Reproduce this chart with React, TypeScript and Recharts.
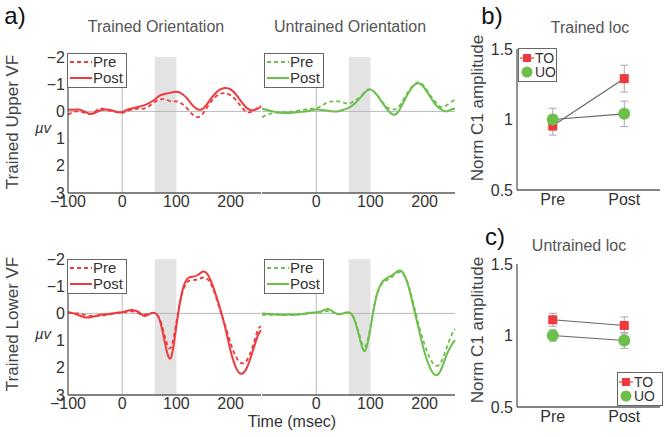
import React from 'react';
import { LineChart, Line, XAxis, YAxis, ReferenceArea, ReferenceLine, Legend, ErrorBar } from 'recharts';

// time axis (msec), sampled every 10 ms plus the right edge
const TIME = [-100, -90, -80, -70, -60, -50, -40, -30, -20, -10, 0, 10, 20, 30, 40, 50, 60, 70, 80, 90, 100, 110, 120, 130, 140, 150, 160, 170, 180, 190, 200, 210, 220, 230, 240, 250, 256];
const X_TICKS = [-100, 0, 100, 200];
const Y_TICKS = [-2, -1, 0, 1, 2, 3];

// ERP amplitudes (µV), trained upper visual field
const UPPER_TO_PRE = [0.12, 0.02, 0, 0.05, 0.09, 0, -0.1, -0.07, -0.01, 0.02, 0.05, -0.02, -0.07, -0.1, -0.1, -0.2, -0.35, -0.44, -0.44, -0.37, -0.37, -0.28, -0.1, 0.12, 0.21, 0.05, -0.25, -0.49, -0.64, -0.67, -0.59, -0.41, -0.16, 0.02, 0, -0.14, -0.2];
const UPPER_TO_POST = [-0.07, -0.06, -0.07, 0, 0.09, 0.05, -0.04, -0.07, -0.04, 0.02, 0.02, -0.07, -0.12, -0.17, -0.22, -0.31, -0.44, -0.59, -0.65, -0.69, -0.72, -0.65, -0.47, -0.22, -0.07, -0.12, -0.37, -0.62, -0.8, -0.86, -0.81, -0.62, -0.35, -0.12, -0.04, -0.1, -0.18];
const UPPER_UO_PRE = [0.21, 0.12, 0.06, 0.04, 0.03, 0.02, 0, -0.04, -0.07, -0.1, -0.12, -0.2, -0.33, -0.37, -0.37, -0.33, -0.28, -0.38, -0.52, -0.72, -0.81, -0.65, -0.4, -0.16, -0.08, -0.12, -0.4, -0.73, -0.98, -1.06, -0.9, -0.6, -0.35, -0.16, -0.22, -0.36, -0.42];
const UPPER_UO_POST = [-0.1, -0.05, 0, 0.04, 0.06, 0.06, 0.04, 0.02, 0, -0.04, -0.07, -0.05, -0.03, 0, 0, -0.06, -0.13, -0.27, -0.47, -0.7, -0.81, -0.65, -0.38, -0.1, 0.1, 0.05, -0.3, -0.68, -0.95, -1.03, -0.85, -0.55, -0.25, -0.08, 0, -0.08, -0.1];

// trained lower visual field
const LOWER_TO_PRE = [-0.04, 0, 0, 0.05, 0.09, 0.09, 0.09, 0.05, 0, -0.02, -0.04, -0.06, -0.07, 0, 0.05, 0, 0, 0.25, 0.95, 1.25, 0.3, -0.7, -1.15, -1.22, -1.25, -1.32, -1.2, -0.78, -0.15, 0.45, 1.1, 1.6, 1.83, 1.72, 1.25, 0.62, 0.48];
const LOWER_TO_POST = [-0.04, 0, 0.07, 0.14, 0.15, 0.1, 0.05, 0.03, 0.02, -0.02, -0.04, -0.1, -0.12, -0.06, 0.09, 0.03, -0.02, 0.3, 1.2, 1.62, 0.45, -0.75, -1.27, -1.35, -1.42, -1.54, -1.35, -0.85, -0.22, 0.52, 1.38, 2.0, 2.22, 2.0, 1.44, 0.83, 0.62];
const LOWER_UO_PRE = [0.05, 0.05, 0.05, 0.03, 0.05, 0.06, 0.05, 0.03, 0.02, 0, -0.02, -0.05, -0.08, -0.05, 0.02, 0, -0.02, 0.2, 0.82, 1.22, 0.5, -0.55, -1.05, -1.22, -1.35, -1.5, -1.45, -1.05, -0.3, 0.5, 1.15, 1.65, 1.92, 1.8, 1.3, 0.78, 0.58];
const LOWER_UO_POST = [0, 0.02, 0.03, 0.05, 0.05, 0.04, 0.05, 0.03, 0, -0.02, -0.04, -0.08, -0.16, -0.08, 0.03, 0, -0.04, 0.2, 0.9, 1.38, 0.55, -0.55, -1.1, -1.3, -1.4, -1.55, -1.5, -1.0, -0.2, 0.65, 1.45, 2.0, 2.27, 2.08, 1.55, 1.15, 0.98];

// normalised C1 amplitude
const CONDITIONS = ['Pre', 'Post'];
const LOC_TICKS = [0.5, 1, 1.5];
const TRAINED_TO = [0.955, 1.29];
const TRAINED_TO_ERR = [0.065, 0.095];
const TRAINED_UO = [1.0, 1.04];
const TRAINED_UO_ERR = [0.08, 0.09];
const UNTRAINED_TO = [1.11, 1.07];
const UNTRAINED_TO_ERR = [0.045, 0.06];
const UNTRAINED_UO = [1.0, 0.965];
const UNTRAINED_UO_ERR = [0.04, 0.055];

const FONT = '"Liberation Sans", Arial, Helvetica, sans-serif';
const RED = '#ef3a3d';
const GREEN = '#6cbf4b';
const AXIS = '#5a5a5a';
const TICK = { fill: '#333', fontSize: 16, fontFamily: FONT };
const PLOT_W = 193;
const PLOT_H = 136;
const TOP_PAD = 12;

const minus = (v: number) => (v < 0 ? `\u2212${Math.abs(v)}` : `${v}`);

const Text = ({ x, y, children, size = 16, color = '#555', italic = false }: any) => (
    <div style={{ position: 'absolute', left: x, top: y, transform: 'translate(-50%, -50%)', whiteSpace: 'nowrap', fontFamily: FONT, fontSize: size, color, lineHeight: 1, fontStyle: italic ? 'italic' : 'normal' }}>
        {children}
    </div>
);

const RotText = ({ x, y, children, size = 17 }: any) => (
    <div style={{ position: 'absolute', left: x, top: y, transform: 'translate(-50%, -50%) rotate(-90deg)', whiteSpace: 'nowrap', fontFamily: FONT, fontSize: size, color: '#444', lineHeight: 1 }}>
        {children}
    </div>
);

const PrePostKey = ({ color }: { color: string }) => (
    <div style={{ width: 60, height: 35, border: '1.5px solid #666', background: '#fff', boxSizing: 'border-box', fontFamily: FONT, fontSize: 15, color: '#333' }}>
        {[{ label: 'Pre', dash: '4 3' }, { label: 'Post', dash: undefined }].map((r) => (
            <div key={r.label} style={{ display: 'flex', alignItems: 'center', height: 16 }}>
                <svg width={25} height={16}>
                    <line x1={2} x2={24} y1={8} y2={8} stroke={color} strokeWidth={2} strokeDasharray={r.dash} />
                </svg>
                <span style={{ lineHeight: '16px' }}>{r.label}</span>
            </div>
        ))}
    </div>
);

const GroupKey = ({ width }: { width: number }) => (
    <div style={{ width, height: 34, border: '1.5px solid #666', background: '#fff', boxSizing: 'border-box', fontFamily: FONT, fontSize: 14, color: '#333', paddingTop: 2 }}>
        <div style={{ display: 'flex', alignItems: 'center', height: 14 }}>
            <svg width={16} height={14}>
                <line x1={1} x2={15} y1={7} y2={7} stroke={RED} strokeWidth={1.2} />
                <rect x={4} y={3} width={8} height={8} fill={RED} />
            </svg>
            <span style={{ lineHeight: '14px' }}>TO</span>
        </div>
        <div style={{ display: 'flex', alignItems: 'center', height: 14 }}>
            <svg width={16} height={14}>
                <circle cx={8} cy={7} r={5.5} fill={GREEN} />
            </svg>
            <span style={{ lineHeight: '14px' }}>UO</span>
        </div>
    </div>
);

// plotTop: page y of the plot area's top edge; legendTop: key offset from it
const ErpPanel = ({ pre, post, color, left, plotTop, axisW, xTicks, legendTop }: any) => {
    const data = TIME.map((t, i) => ({ t, pre: pre[i], post: post[i] }));
    return (
        <div style={{ position: 'absolute', left, top: plotTop - TOP_PAD }}>
            <LineChart width={axisW + PLOT_W + 1} height={TOP_PAD + PLOT_H + 22} data={data} margin={{ top: TOP_PAD, right: 1, bottom: 0, left: 0 }}>
                <ReferenceArea x1={60} x2={100} fill="#e3e3e3" fillOpacity={1} stroke="none" />
                <ReferenceLine x={0} stroke="#b8b8b8" />
                <ReferenceLine y={0} stroke="#b8b8b8" />
                <XAxis dataKey="t" type="number" domain={[-100, 256]} ticks={xTicks} interval={0} height={22} tickSize={0} tickMargin={3} stroke={AXIS} strokeWidth={1.3} tick={TICK} tickFormatter={minus} />
                <YAxis type="number" domain={[-2, 3]} reversed ticks={axisW ? Y_TICKS : []} interval={0} width={axisW} tick={axisW ? TICK : false} tickSize={0} tickMargin={3} stroke={AXIS} strokeWidth={1.3} tickFormatter={minus} />
                <Line dataKey="pre" type="natural" stroke={color} strokeWidth={1.8} strokeDasharray="4 3" dot={false} isAnimationActive={false} />
                <Line dataKey="post" type="natural" stroke={color} strokeWidth={2} dot={false} isAnimationActive={false} />
                <Legend layout="horizontal" verticalAlign="middle" align="center" wrapperStyle={{ left: axisW ? 67 : 2, top: legendTop + TOP_PAD, width: 60, height: 35 }} content={() => <PrePostKey color={color} />} />
            </LineChart>
        </div>
    );
};

const square = (props: any) => (
    <rect key={`sq-${props.index}`} x={props.cx - 4.5} y={props.cy - 4.5} width={9} height={9} fill={RED} />
);

const LocPanel = ({ to, toErr, uo, uoErr, left, plotTop, plotH, legendLeft, legendTop, legendW }: any) => {
    const data = CONDITIONS.map((name, i) => ({ x: i + 1, name, to: to[i], toErr: toErr[i], uo: uo[i], uoErr: uoErr[i] }));
    return (
        <div style={{ position: 'absolute', left, top: plotTop - TOP_PAD }}>
            <LineChart width={204} height={TOP_PAD + plotH + 25} data={data} margin={{ top: TOP_PAD, right: 4, bottom: 0, left: 0 }}>
                <XAxis dataKey="x" type="number" domain={[0.5, 2.5]} ticks={[1, 2]} interval={0} tickFormatter={(v) => CONDITIONS[v - 1]} height={25} tickSize={0} tickMargin={4} stroke={AXIS} strokeWidth={1.3} tick={TICK} />
                <YAxis type="number" domain={[0.5, 1.5]} ticks={LOC_TICKS} interval={0} width={57} tickSize={0} tickMargin={4} stroke={AXIS} strokeWidth={1.3} tick={TICK} />
                <Line dataKey="to" stroke="#666" strokeWidth={1.2} dot={square} isAnimationActive={false}>
                    <ErrorBar dataKey="toErr" direction="y" width={4} stroke="#a8a8a8" strokeWidth={1} />
                </Line>
                <Line dataKey="uo" stroke="#666" strokeWidth={1.2} dot={{ r: 6, fill: GREEN, stroke: 'none' }} isAnimationActive={false}>
                    <ErrorBar dataKey="uoErr" direction="y" width={4} stroke="#a8a8a8" strokeWidth={1} />
                </Line>
                <Legend layout="horizontal" verticalAlign="middle" align="center" wrapperStyle={{ left: legendLeft, top: legendTop + TOP_PAD, width: legendW, height: 34 }} content={() => <GroupKey width={legendW} />} />
            </LineChart>
        </div>
    );
};

export default function App() {
    return (
        <div style={{ position: 'absolute', left: 0, top: 0, width: 664, height: 437, background: '#fff', overflow: 'hidden' }}>
            <Text x={15} y={16} size={24} color="#111">a)</Text>
            <Text x={492} y={16} size={24} color="#111">b)</Text>
            <Text x={495} y={237} size={24} color="#111">c)</Text>

            <Text x={156} y={27}>Trained Orientation</Text>
            <Text x={350} y={27}>Untrained Orientation</Text>
            <Text x={590} y={28}>Trained loc</Text>
            <Text x={579} y={246}>Untrained loc</Text>

            <RotText x={12} y={122}>Trained Upper VF</RotText>
            <RotText x={12} y={324}>Trained Lower VF</RotText>
            <Text x={43} y={127} size={15} color="#333" italic>µv</Text>
            <Text x={43} y={333} size={15} color="#333" italic>µv</Text>
            <Text x={292} y={422} color="#333">Time (msec)</Text>

            <RotText x={477} y={108}>Norm C1 amplitude</RotText>
            <RotText x={477} y={330}>Norm C1 amplitude</RotText>

            <ErpPanel pre={UPPER_TO_PRE} post={UPPER_TO_POST} color={RED} left={0} plotTop={57} axisW={68} xTicks={X_TICKS} legendTop={-4} />
            <ErpPanel pre={UPPER_UO_PRE} post={UPPER_UO_POST} color={GREEN} left={262} plotTop={57} axisW={0} xTicks={[0, 100, 200]} legendTop={-4} />
            <ErpPanel pre={LOWER_TO_PRE} post={LOWER_TO_POST} color={RED} left={0} plotTop={259} axisW={68} xTicks={X_TICKS} legendTop={0} />
            <ErpPanel pre={LOWER_UO_PRE} post={LOWER_UO_POST} color={GREEN} left={262} plotTop={259} axisW={0} xTicks={[0, 100, 200]} legendTop={0} />

            <LocPanel to={TRAINED_TO} toErr={TRAINED_TO_ERR} uo={TRAINED_UO} uoErr={TRAINED_UO_ERR} left={460} plotTop={49} plotH={141} legendLeft={58} legendTop={-1} legendW={39} />
            <LocPanel to={UNTRAINED_TO} toErr={UNTRAINED_TO_ERR} uo={UNTRAINED_UO} uoErr={UNTRAINED_UO_ERR} left={460} plotTop={264} plotH={143} legendLeft={157} legendTop={108} legendW={46} />
        </div>
    );
}
